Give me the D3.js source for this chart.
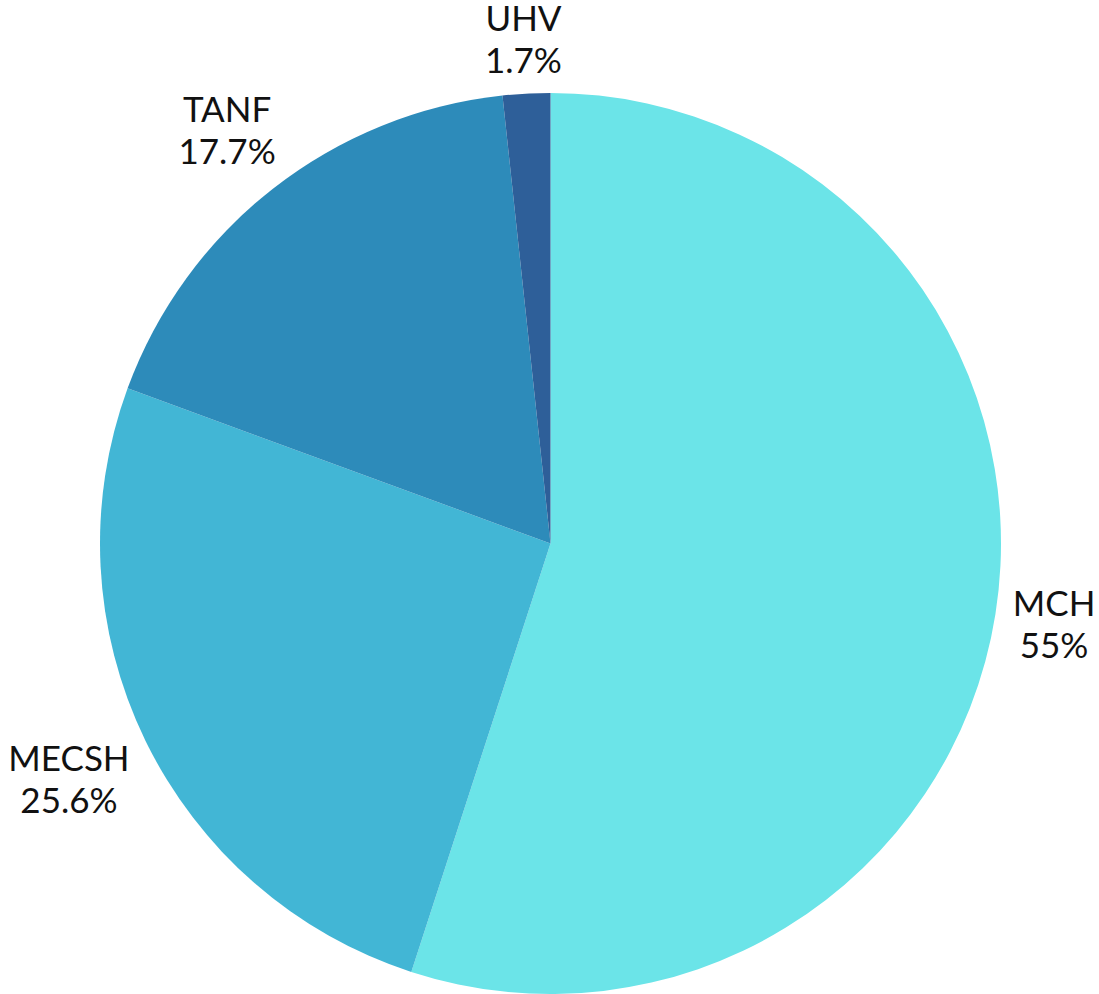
<!DOCTYPE html>
<html>
<head>
<meta charset="utf-8">
<script src="https://cdn.jsdelivr.net/npm/d3@7"></script>
<style>
  body { margin: 0; background: #fff; }
  text { font-family: Lato, "Open Sans", sans-serif; fill: #111; }
</style>
</head>
<body>
<script>
// data
var programs = ["MCH", "MECSH", "TANF", "UHV"];
var shares = [55, 25.6, 17.7, 1.7];
var labels = ["55%", "25.6%", "17.7%", "1.7%"];
var colors = ["#6be4e8", "#42b6d5", "#2d8bba", "#2e5f99"];

let width = 1099;
let height = 994;
let radius = 450.5;
let cx = 550.5, cy = 543.5;

let svg = d3.select("body").append("svg")
    .attr("width", width)
    .attr("height", height);

var chartG = svg.append("g")
    .attr("transform", "translate(" + cx + "," + cy + ")");

var data = programs.map((p, i) => ({name: p, value: shares[i], label: labels[i], color: colors[i]}));

let pie = d3.pie().sort(null).value(d => d.value);
let arc = d3.arc().innerRadius(0).outerRadius(radius);

var arcs = pie(data);

chartG.selectAll("path")
    .data(arcs)
    .join("path")
    .attr("d", arc)
    .attr("fill", d => d.data.color);

// labels, placed just outside the pie along the mid angle
var labelG = chartG.selectAll(".lbl")
    .data(arcs)
    .join("g")
    .attr("class", "lbl");

labelG.append("text")
    .attr("text-anchor", "middle")
    .style("font-size", "35px")
    .attr("y", -6)
    .text(d => d.data.name);

labelG.append("text")
    .attr("text-anchor", "middle")
    .style("font-size", "35px")
    .attr("y", 36)
    .text(d => d.data.label);

labelG.each(function(d) {
    let g = d3.select(this);
    let bb = this.getBBox();
    let mid = (d.startAngle + d.endAngle) / 2;
    let ux = Math.sin(mid), uy = -Math.cos(mid);
    let support = Math.abs(ux) * bb.width / 2 + Math.abs(uy) * bb.height / 2;
    let dist = radius + 12 + support;
    let bcx = bb.x + bb.width / 2, bcy = bb.y + bb.height / 2;
    g.attr("transform", "translate(" + (ux * dist - bcx) + "," + (uy * dist - bcy) + ")");
});
</script>
</body>
</html>
